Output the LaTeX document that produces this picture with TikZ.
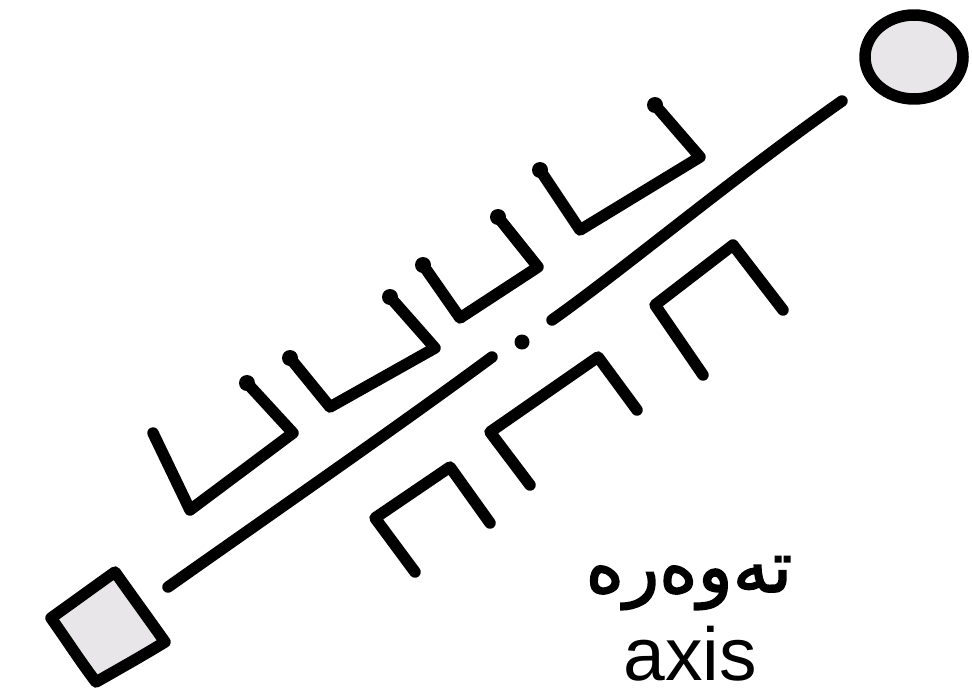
\documentclass[tikz,border=0pt]{standalone}
\usepackage{fontspec}
\setmainfont{Liberation Sans}
\newfontfamily\arabicfont[Script=Arabic, AutoFakeBold=2.2]{DejaVu Sans}
\TeXXeTstate=1
\definecolor{padgray}{HTML}{E8E6E8}
\begin{document}
\begin{tikzpicture}[x=1pt,y=-1pt,
  ink/.style={line width=11.5pt, line cap=round, line join=round, draw=black},
  blob/.style={fill=black, circle, inner sep=0pt, minimum size=15pt},
  label/.style={inner sep=0pt, text=black}]
\useasboundingbox (0,0) rectangle (972,699);

% end markers
\draw[ink, fill=padgray] (115,572) .. controls (132,596) and (148,618) .. (165,642)
  .. controls (142,656) and (119,669) .. (96,682)
  .. controls (80,661) and (66,639) .. (51,618)
  .. controls (72,603) and (94,587) .. cycle;
\draw[ink, fill=padgray] (914,57) ellipse [x radius=49, y radius=42];

% axis
\coordinate (a1) at (168,587);
\coordinate (a2) at (492,357);
\coordinate (b1) at (552,320);
\coordinate (b2) at (842,101);
\draw[ink] (a1) .. controls (270,515) and (400,425) .. (a2);
\draw[ink] (b1) .. controls (620,272) and (730,180) .. (b2);
\node[blob, minimum size=15pt] (dot) at (522,342) {};

% upper row
\draw[ink] (153,433) -- (190,510) -- (293,433) -- (247,383);
\draw[ink] (290,358) -- (330,407) -- (435,348) -- (390,297);
\draw[ink] (423,265) -- (460,318) -- (538,267) -- (498,217);
\draw[ink] (540,170) -- (580,230) -- (700,157) -- (655,105);
\foreach \p in {(247,383),(290,358),(390,297),(423,265),(498,217),(540,170),(655,105)}
  \fill \p circle (8pt);

% lower row
\draw[ink] (415,572) -- (375,518) -- (450,467) -- (490,523);
\draw[ink] (530,485) -- (490,432) -- (598,357) -- (637,410);
\draw[ink] (703,375) -- (655,305) -- (733,245) -- (783,310);

% labels
\node[label, anchor=base] (ku) at (689,592) {\fontsize{73}{80}\selectfont\arabicfont\bfseries\beginR تەوەرە\endR};
\node[label, anchor=base] (en) at (690,680) {\fontsize{75}{90}\selectfont axis};
\end{tikzpicture}
\end{document}
